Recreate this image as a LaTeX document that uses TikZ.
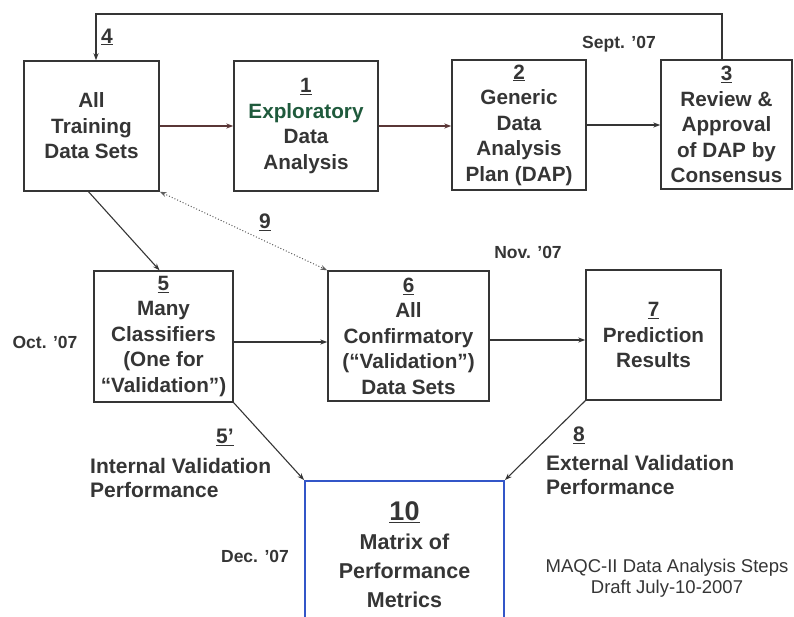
\documentclass[tikz,border=0pt]{standalone}
\usepackage{fontspec}
\setmainfont{Liberation Sans}
\usetikzlibrary{arrows.meta}
\definecolor{ink}{HTML}{353535}
\definecolor{rust}{HTML}{5A3636}
\definecolor{leaf}{HTML}{1F5A3C}
\definecolor{frame}{HTML}{3356C8}
\begin{document}
\begin{tikzpicture}[x=1pt,y=-1pt,
  box/.style={draw=ink, line width=1.4pt, inner sep=0pt, align=center, text=ink,
    font=\bfseries\fontsize{20.7}{25.5}\selectfont},
  arr/.style={draw=ink, line width=1.1pt, line join=miter, -{Stealth[length=7pt,width=5pt]}},
  lab/.style={text=ink, inner sep=0pt, font=\bfseries\fontsize{21}{24}\selectfont},
  date/.style={text=ink, inner sep=0pt, font=\bfseries\fontsize{17.5}{19}\selectfont},
  note/.style={text=ink, inner sep=0pt, align=center, font=\fontsize{18.5}{21}\selectfont}]
\useasboundingbox (0,0) rectangle (794,617);
\clip (0,0) rectangle (794,617);

% process boxes
\node[box, minimum width=135pt, minimum height=130pt] (train) at (91.5,126) {All\\Training\\Data Sets};
\node[box, minimum width=144pt, minimum height=130pt] (eda) at (306,126)
  {\underline{1}\\\textcolor{leaf}{Exploratory}\\Data\\Analysis};
\node[box, minimum width=134pt, minimum height=130pt] (dap) at (519,125)
  {\underline{2}\\Generic\\Data\\Analysis\\Plan (DAP)};
\node[box, minimum width=131pt, minimum height=129pt] (rev) at (726.5,124.5)
  {\underline{3}\\Review \&\\Approval\\of DAP by\\Consensus};
\node[box, minimum width=139pt, minimum height=131pt] (clf) at (163.5,336.5)
  {\underline{5}\\Many\\Classifiers\\(One for\\“Validation”)};
\node[box, minimum width=161pt, minimum height=130pt] (conf) at (408.5,336)
  {\underline{6}\\All\\Confirmatory\\(“Validation”)\\Data Sets};
\node[box, minimum width=135pt, minimum height=130pt] (pred) at (653.5,335)
  {\underline{7}\\Prediction\\Results};
\node[draw=frame, line width=1.8pt, inner sep=0pt, minimum width=199pt, minimum height=169pt] (mat) at (404.5,565.5) {};
\node[text=ink, inner sep=0pt, align=center, font=\bfseries\fontsize{21.5}{29}\selectfont] (mattext) at (404.5,555)
  {{\fontsize{27}{32}\selectfont\underline{10}}\\Matrix of\\Performance\\Metrics};

% feedback loop from step 3 back to the training sets
\coordinate (loopL) at (96,14);
\coordinate (loopR) at (722,14);
\draw[arr] (rev.north -| loopR) -- (loopR) -- (loopL) -- (train.north -| loopL);

% top row flow
\draw[arr, draw=rust] (train.east) -- (eda.west |- train.east);
\draw[arr, draw=rust] (eda.east) -- (dap.west |- eda.east);
\draw[arr] (dap.east) -- (rev.west |- dap.east);

% middle row flow
\coordinate (rowA) at (0,342);
\coordinate (rowB) at (0,340);
\draw[arr] ([xshift=-3pt]train.south) -- ([xshift=-4pt]clf.north);
\draw[draw=ink!80, line width=1pt, dotted, {Stealth[length=7pt,width=5pt]}-{Stealth[length=7pt,width=5pt]}]
  (train.south east) -- (conf.north west);
\draw[arr] (clf.east |- rowA) -- (conf.west |- rowA);
\draw[arr] (conf.east |- rowB) -- (pred.west |- rowB);

% performance feeds
\draw[arr] (clf.south east) -- (mat.north west);
\draw[arr] (pred.south west) -- (mat.north east);

% step labels
\node[lab] (n4) at (107,37) {\underline{4}};
\node[lab] (n9) at (265,222) {\underline{9}};
\node[lab] (n5p) at (225,437) {\underline{5’}};
\node[lab, anchor=west, align=left] (intl) at (90,478) {Internal Validation\\Performance};
\node[lab] (n8) at (579,435) {\underline{8}};
\node[lab, anchor=west, align=left] (extl) at (546,475) {External Validation\\Performance};

% schedule
\node[date] (sep) at (619,44) {Sept. ’07};
\node[date] (nov) at (528,252) {Nov. ’07};
\node[date] (oct) at (45,342) {Oct. ’07};
\node[date] (dec) at (255,556) {Dec. ’07};

% caption
\node[note] (cap) at (667,578) {MAQC-II Data Analysis Steps\\Draft July-10-2007};
\end{tikzpicture}
\end{document}
